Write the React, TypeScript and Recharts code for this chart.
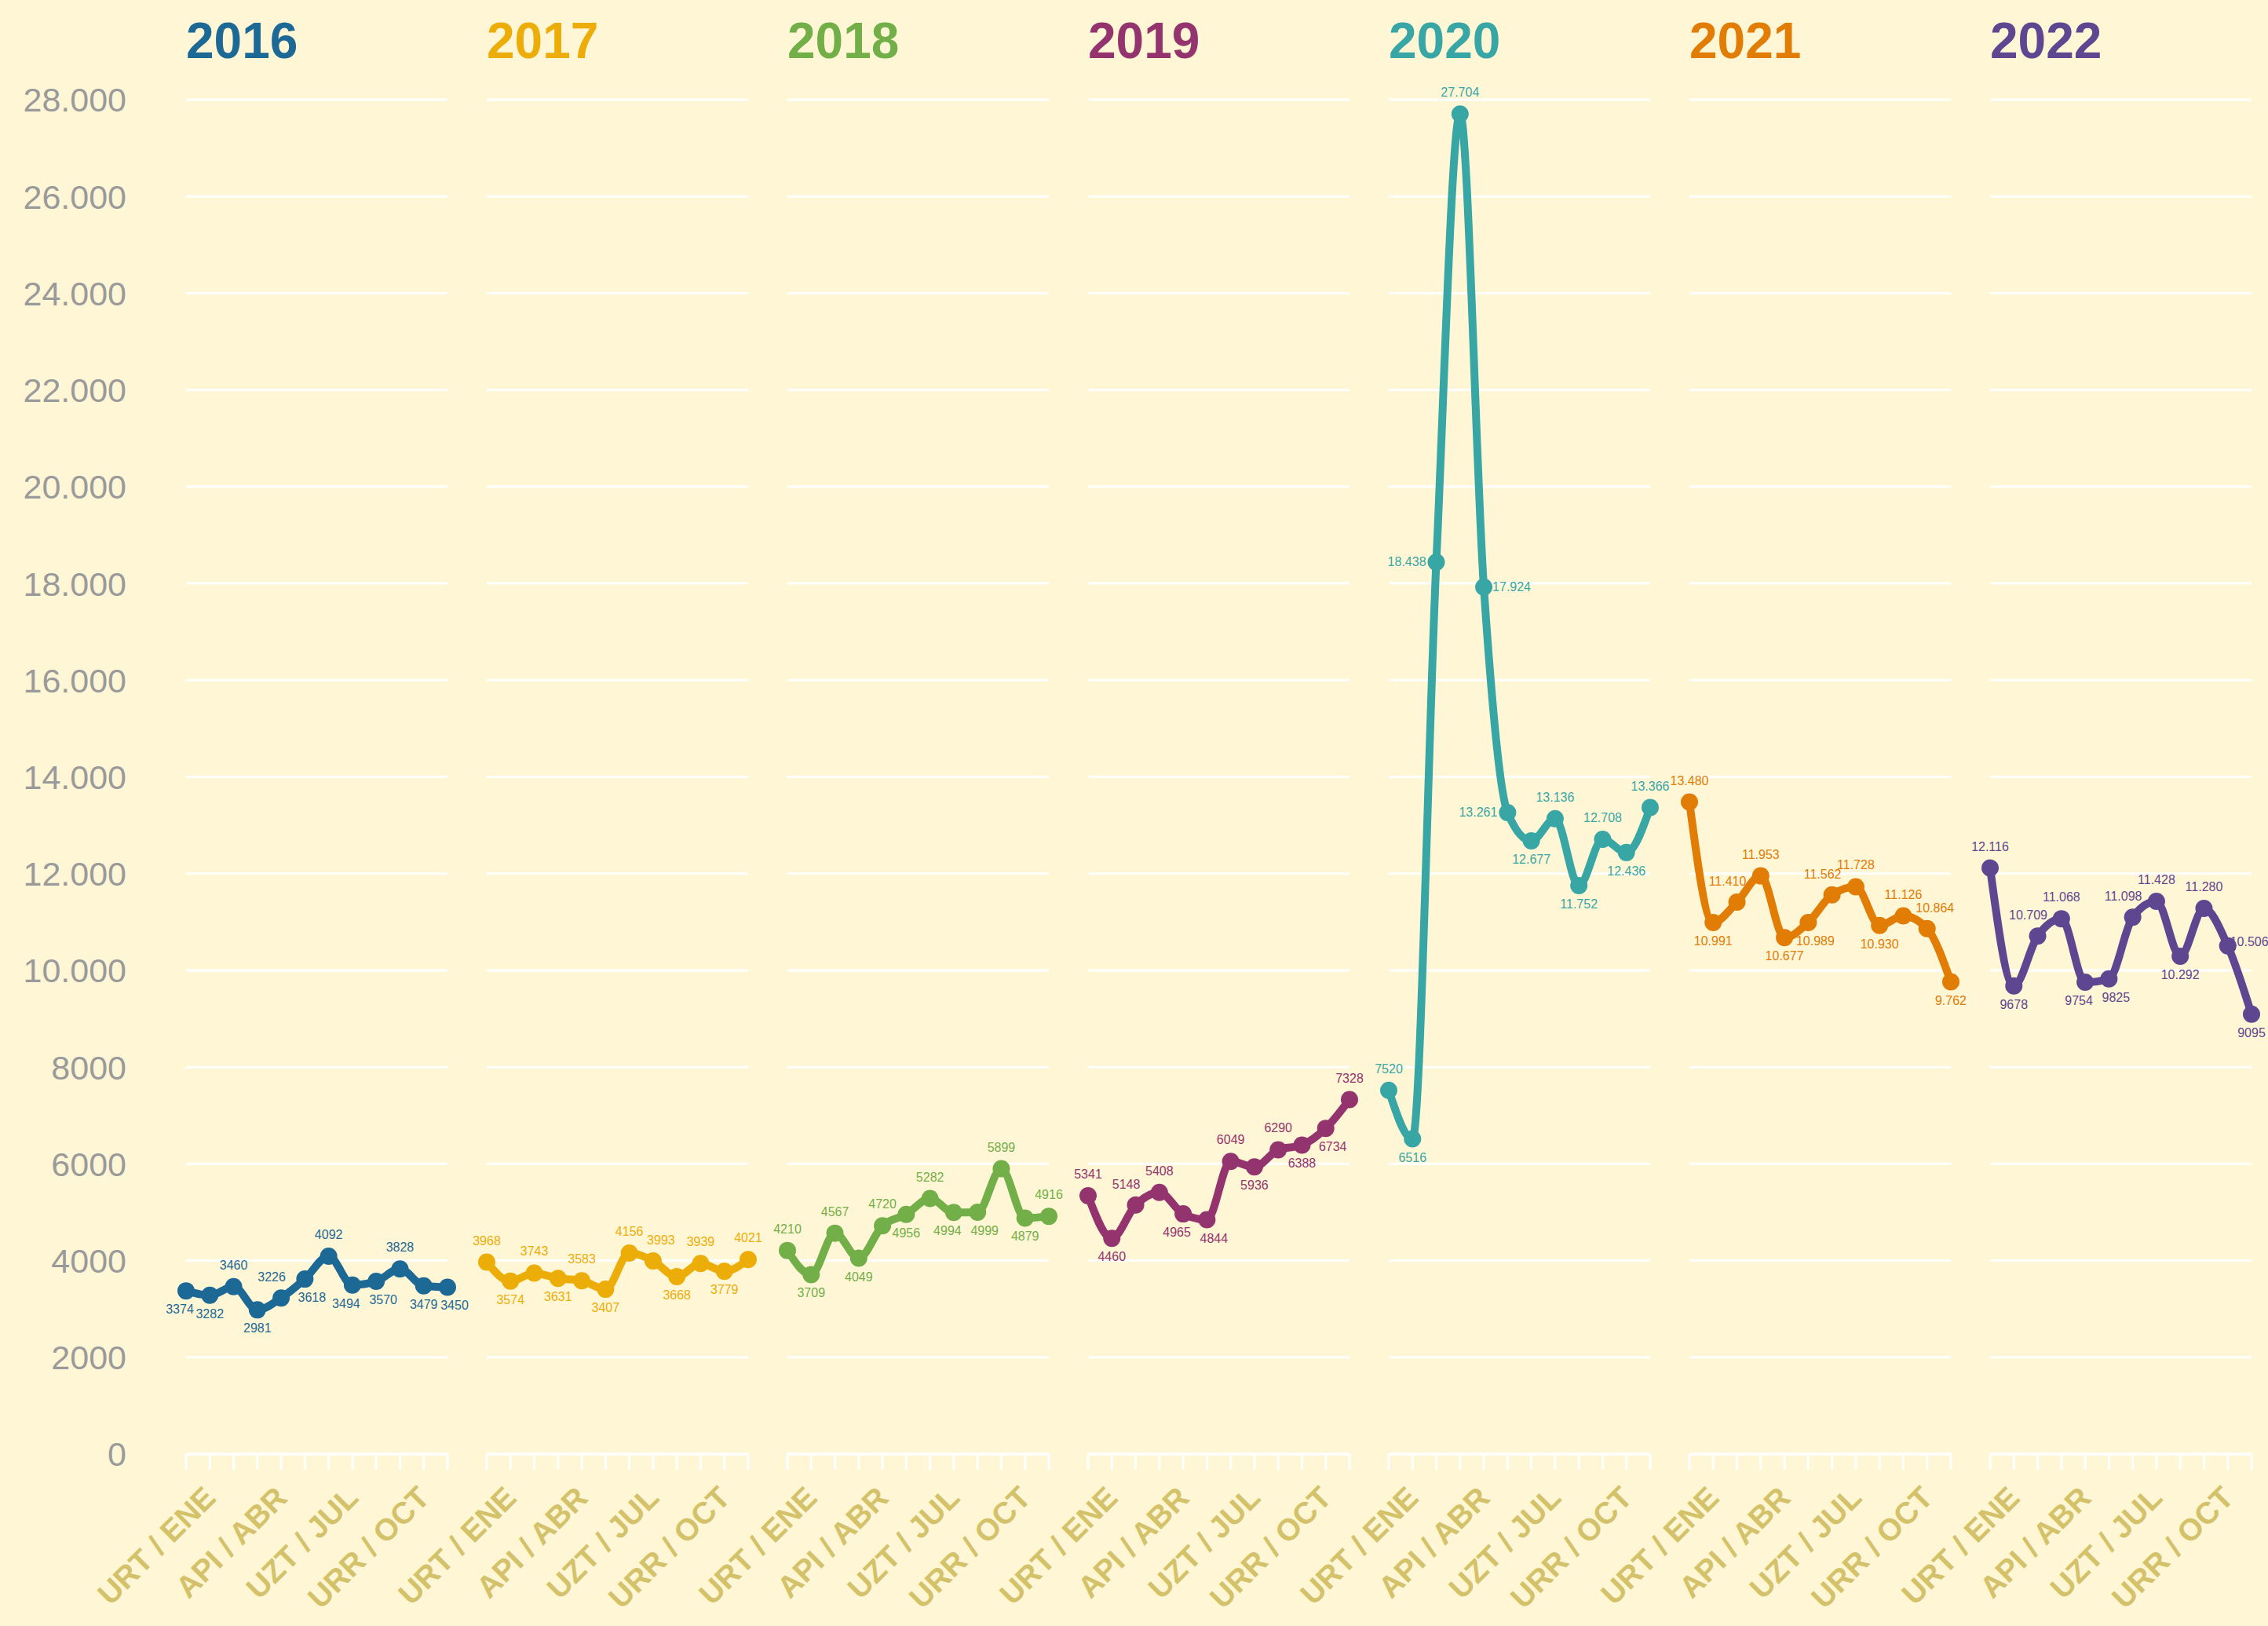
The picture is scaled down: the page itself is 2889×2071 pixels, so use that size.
import React from "react";
import { LineChart, Line, XAxis, YAxis, CartesianGrid, LabelList } from "recharts";

const years = ["2016", "2017", "2018", "2019", "2020", "2021", "2022"];

const colors = ["#1D6996", "#EDAD08", "#73AF48", "#94346E", "#38A6A5", "#E17C05", "#5F4690"];

const values2016 = [3374, 3282, 3460, 2981, 3226, 3618, 4092, 3494, 3570, 3828, 3479, 3450];
const values2017 = [3968, 3574, 3743, 3631, 3583, 3407, 4156, 3993, 3668, 3939, 3779, 4021];
const values2018 = [4210, 3709, 4567, 4049, 4720, 4956, 5282, 4994, 4999, 5899, 4879, 4916];
const values2019 = [5341, 4460, 5148, 5408, 4965, 4844, 6049, 5936, 6290, 6388, 6734, 7328];
const values2020 = [7520, 6516, 18438, 27704, 17924, 13261, 12677, 13136, 11752, 12708, 12436, 13366];
const values2021 = [13480, 10991, 11410, 11953, 10677, 10989, 11562, 11728, 10930, 11126, 10864, 9762];
const values2022 = [12116, 9678, 10709, 11068, 9754, 9825, 11098, 11428, 10292, 11280, 10506, 9095];

const seriesValues = [values2016, values2017, values2018, values2019, values2020, values2021, values2022];

const monthLabels = [
  "URT / ENE", "OTS / FEB", "MAR / MAR", "API / ABR", "MAI / MAY", "EKA / JUN",
  "UZT / JUL", "ABU / AGO", "IRA / SEP", "URR / OCT", "AZA / NOV", "ABE / DIC",
];
const shownMonths = [0, 3, 6, 9];

const yTicks = [0, 2000, 4000, 6000, 8000, 10000, 12000, 14000, 16000, 18000, 20000, 22000, 24000, 26000, 28000];

// where each value label sits relative to its point
const labelSpots = [
  ["bl", "b", "t", "b", "tl", "br", "t", "bl", "br", "t", "b", "br"],
  ["t", "b", "t", "b", "t", "b", "t", "tr", "b", "t", "b", "t"],
  ["t", "b", "t", "b", "t", "b", "t", "bl", "br", "t", "b", "t"],
  ["t", "b", "tl", "t", "bl", "br", "t", "b", "t", "b", "br", "t"],
  ["t", "b", "l", "t", "r", "l", "b", "t", "b", "t", "b", "t"],
  ["t", "b", "tl", "t", "b", "br", "tl", "t", "b", "t", "tr", "b"],
  ["t", "b", "tl", "t", "bl", "br", "tl", "t", "b", "t", "rn", "b"],
];

const W = 2889;
const H = 2071;
const TOP = 127;
const AXIS_Y = 1852;
const X0 = 237;
const STEP = 383;
const PANEL_W = 333;
const PAD = 70;
const FONT = "'Liberation Sans', Arial, Helvetica, sans-serif";
const BG = "#FFF6D5";

const group = (v: number) => String(v).replace(/\B(?=(\d{3})+(?!\d))/g, ".");
const fmtAxis = (v: number) => (v >= 10000 ? group(v) : String(v));

const spotOffsets: Record<string, [number, number, string]> = {
  t: [0, -22, "middle"],
  b: [0, 29, "middle"],
  l: [-13, 5, "end"],
  r: [11, 5, "start"],
  rn: [3, 0, "start"],
  tl: [-12, -21, "middle"],
  tr: [10, -21, "middle"],
  bl: [-8, 29, "middle"],
  br: [9, 29, "middle"],
};

function MonthTick(props: any) {
  const { x, payload } = props;
  if (!shownMonths.includes(payload.value)) return <g />;
  const ax = x + 40;
  const ay = AXIS_Y + 58;
  return (
    <text
      x={ax}
      y={ay}
      transform={`rotate(-45 ${ax} ${ay})`}
      textAnchor="end"
      fontFamily={FONT}
      fontWeight="bold"
      fontSize={39}
      fill="#D4C26A"
    >
      {monthLabels[payload.value]}
    </text>
  );
}

function YTick(props: any) {
  const { x, y, payload } = props;
  return (
    <text x={x} y={y} dy="0.36em" textAnchor="end" fontFamily={FONT} fontSize={43} fill="#9A9A9A">
      {fmtAxis(payload.value)}
    </text>
  );
}

function Panel({ idx }: { idx: number }) {
  const first = idx === 0;
  const color = colors[idx];
  const vals = seriesValues[idx];
  const rows = vals.map((v, i) => ({ i, v }));
  const groupAll = years[idx] === "2021";
  const left = first ? 0 : X0 + idx * STEP - PAD;
  const width = first ? X0 + PANEL_W + PAD : PANEL_W + 2 * PAD;

  const renderLabel = (p: any) => {
    const spot = labelSpots[idx][p.index] || "t";
    const [dx, dy, anchor] = spotOffsets[spot];
    const v = Number(p.value);
    return (
      <text
        x={p.x + dx}
        y={p.y + dy}
        textAnchor={anchor as any}
        fontFamily={FONT}
        fontSize={16}
        fill={color}
      >
        {groupAll ? group(v) : fmtAxis(v)}
      </text>
    );
  };

  return (
    <div style={{ position: "absolute", left, top: 0 }}>
      <LineChart
        width={width}
        height={H}
        data={rows}
        margin={{ top: TOP, right: PAD, bottom: 0, left: first ? 0 : PAD }}
      >
        <CartesianGrid horizontal vertical={false} stroke="#FFFFFF" strokeWidth={3} />
        <XAxis
          type="number"
          dataKey="i"
          domain={[0, 11]}
          ticks={[0, 1, 2, 3, 4, 5, 6, 7, 8, 9, 10, 11]}
          interval={0}
          height={H - AXIS_Y}
          axisLine={{ stroke: "#FFFFFF", strokeWidth: 3 }}
          tickLine={{ stroke: "#FFFFFF", strokeWidth: 3 }}
          tickSize={20}
          tickMargin={0}
          tick={<MonthTick />}
        />
        <YAxis
          type="number"
          domain={[0, 28000]}
          ticks={yTicks}
          interval={0}
          hide={!first}
          width={first ? X0 : 0}
          axisLine={false}
          tickLine={false}
          tickSize={0}
          tickMargin={76}
          tick={<YTick />}
        />
        <Line
          type="monotone"
          dataKey="v"
          stroke={color}
          strokeWidth={10}
          dot={{ r: 11, fill: color, stroke: "none" }}
          activeDot={false}
          isAnimationActive={false}
        >
          <LabelList dataKey="v" content={renderLabel} />
        </Line>
      </LineChart>
    </div>
  );
}

export default function App() {
  return (
    <div
      style={{
        position: "absolute",
        left: 0,
        top: 0,
        width: W,
        height: H,
        background: BG,
        overflow: "hidden",
      }}
    >
      <style>{`.recharts-surface{overflow:visible !important}`}</style>
      {years.map((y, i) => (
        <Panel key={y} idx={i} />
      ))}
      <svg width={W} height={H} style={{ position: "absolute", left: 0, top: 0, pointerEvents: "none" }}>
        {years.map((y, i) => (
          <text
            key={y}
            x={X0 + i * STEP}
            y={74}
            fontFamily={FONT}
            fontWeight="bold"
            fontSize={64}
            fill={colors[i]}
          >
            {y}
          </text>
        ))}
      </svg>
    </div>
  );
}
